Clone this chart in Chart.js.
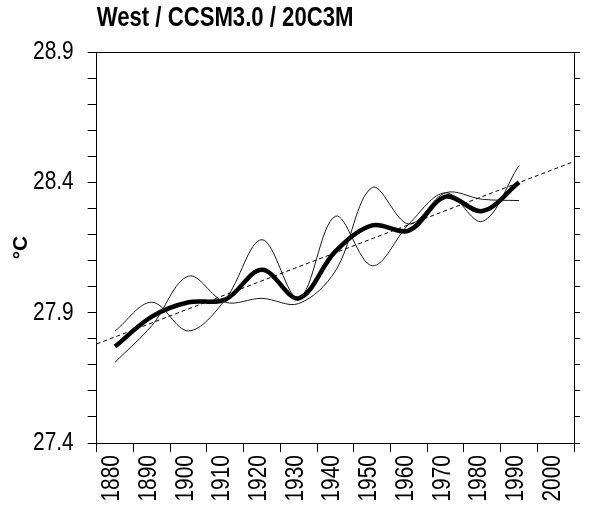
<!DOCTYPE html>
<html><head><meta charset="utf-8">
<script src="https://cdn.jsdelivr.net/npm/chart.js@4"></script>
<style>html,body{margin:0;padding:0;background:#fff}canvas{display:block}</style>
</head><body>
<canvas id="c" width="590" height="510"></canvas>
<script>
// ---- data ----
const years = [1880, 1890, 1900, 1910, 1920, 1930, 1940, 1950, 1960, 1970, 1980, 1990];
const ensembleMean = [27.77, 27.885, 27.94, 27.95, 28.065, 27.955, 28.135, 28.235, 28.215, 28.345, 28.29, 28.40];
const run1 = [27.83, 27.94, 27.83, 27.95, 28.18, 27.955, 28.27, 28.08, 28.24, 28.36, 28.25, 28.465];
const run2 = [27.71, 27.85, 28.04, 27.94, 27.955, 27.935, 28.06, 28.38, 28.24, 28.36, 28.335, 28.33];
const trendYears = [1875, 2005];
const trendValues = [27.78, 28.48];
const xTickYears = [1880, 1890, 1900, 1910, 1920, 1930, 1940, 1950, 1960, 1970, 1980, 1990, 2000];
const yTickValues = [27.4, 27.5, 27.6, 27.7, 27.8, 27.9, 28.0, 28.1, 28.2, 28.3, 28.4, 28.5, 28.6, 28.7, 28.8, 28.9];
const yLabelValues = [27.4, 27.9, 28.4, 28.9];
const titleText = 'West / CCSM3.0 / 20C3M';
const yTitleText = '°C';

const FONT = '"Liberation Sans", Arial, sans-serif';
const near = (a, b) => Math.abs(a - b) < 1e-6;
const pts = (xs, ys) => xs.map((x, i) => ({x: x, y: ys[i]}));

// Emulate a narrow (Arial Narrow-like) face: draw the library's text condensed horizontally.
const condense = {
  id: 'condense',
  beforeInit(chart) {
    const ctx = chart.ctx;
    const origFill = ctx.fillText.bind(ctx);
    ctx.fillText = function (text, x, y, maxWidth) {
      if (String(text) === yTitleText) { return maxWidth === undefined ? origFill(text, x, y) : origFill(text, x, y, maxWidth); }
      ctx.save();
      ctx.translate(x, y);
      ctx.scale(0.82, 1);
      if (maxWidth === undefined) origFill(text, 0, 0); else origFill(text, 0, 0, maxWidth / 0.82);
      ctx.restore();
    };
  }
};

new Chart(document.getElementById('c').getContext('2d'), {
  type: 'line',
  plugins: [condense],
  data: {
    datasets: [
      {label: 'trend', data: pts(trendYears, trendValues), borderColor: '#000', borderWidth: 1, borderDash: [4, 3], pointRadius: 0, tension: 0},
      {label: 'run 1', data: pts(years, run1), borderColor: '#1a1a1a', borderWidth: 1, pointRadius: 0, tension: 0.35},
      {label: 'run 2', data: pts(years, run2), borderColor: '#1a1a1a', borderWidth: 1, pointRadius: 0, tension: 0.35},
      {label: 'mean', data: pts(years, ensembleMean), borderColor: '#000', borderWidth: 4.5, pointRadius: 0, tension: 0.35}
    ]
  },
  options: {
    responsive: false,
    animation: false,
    devicePixelRatio: 1,
    layout: {padding: 0},
    plugins: {
      legend: {display: false},
      tooltip: {enabled: false},
      title: {
        display: true, text: titleText, align: 'start', fullSize: false, color: '#000',
        font: {family: FONT, size: 27, weight: 'bold', lineHeight: 1.2},
        padding: {top: 2.4, bottom: 17.2}
      }
    },
    scales: {
      x: {
        type: 'linear', position: 'bottom', min: 1875, max: 2005,
        afterBuildTicks: s => { s.ticks = xTickYears.map(v => ({value: v})); },
        afterFit: s => { s.height = 67; },
        grid: {display: true, offset: true, drawOnChartArea: false, drawTicks: true, tickLength: 9, color: '#000', tickColor: '#000'},
        border: {display: true, color: '#000', width: 1},
        ticks: {autoSkip: false, minRotation: 90, maxRotation: 90, padding: 3, labelOffset: -3, color: '#000',
          font: {family: FONT, size: 25.5}, callback: v => String(v)}
      },
      y: {
        type: 'linear', position: 'left', min: 27.4, max: 28.9,
        afterBuildTicks: s => { s.ticks = yTickValues.map(v => ({value: v})); },
        afterFit: s => { s.width = 96.7; },
        grid: {display: true, drawOnChartArea: true, drawTicks: true, tickLength: 9,
          color: c => (c.tick && near(c.tick.value, 28.9)) ? '#000' : 'rgba(0,0,0,0)', tickColor: '#000'},
        border: {display: true, color: '#000', width: 1},
        ticks: {autoSkip: false, padding: 14, color: '#000', font: {family: FONT, size: 25.5},
          callback: v => yLabelValues.some(l => near(l, v)) ? v.toFixed(1) : ''},
        title: {display: true, text: yTitleText, color: '#000', font: {family: FONT, size: 21, weight: 'bold'}, padding: {top: 9, bottom: 0}}
      },
      y2: {
        type: 'linear', position: 'right', min: 27.4, max: 28.9,
        afterBuildTicks: s => { s.ticks = yTickValues.map(v => ({value: v})); },
        grid: {display: true, drawOnChartArea: false, drawTicks: true, tickLength: 6, color: '#000', tickColor: '#000'},
        border: {display: true, color: '#000', width: 1},
        ticks: {display: false, autoSkip: false}
      }
    }
  }
});
</script>
</body></html>
